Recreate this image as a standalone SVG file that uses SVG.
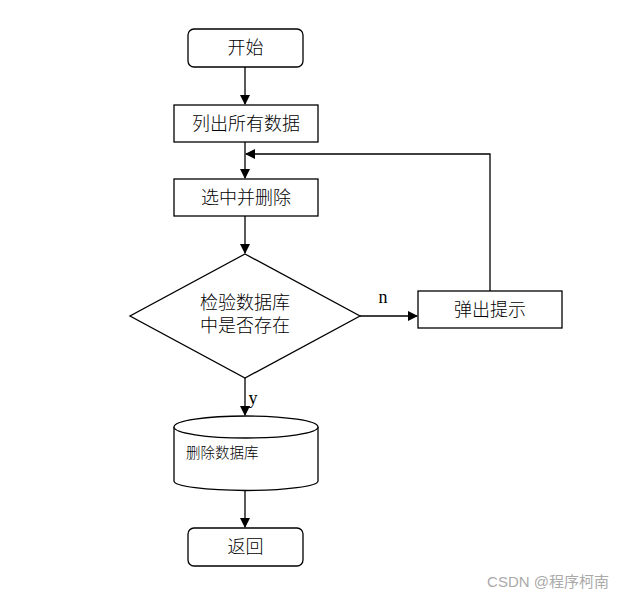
<svg xmlns="http://www.w3.org/2000/svg" width="624" height="600" viewBox="0 0 624 600">
<defs>
<marker id="ah" markerWidth="10" markerHeight="10" refX="9" refY="5" orient="auto" markerUnits="userSpaceOnUse">
<path d="M0,0 L10,5 L0,10 Z" fill="#000"/>
</marker>
<style>
.box{fill:#fff;stroke:#000;stroke-width:1.3}
.t{font-family:"Liberation Serif","Noto Sans CJK SC",serif;font-size:18px;font-weight:300;fill:#000;text-anchor:middle}
.ts{font-family:"Liberation Sans","Noto Sans CJK SC",sans-serif;font-size:14.5px;font-weight:300;fill:#000}
.ln{fill:none;stroke:#000;stroke-width:1.3}
</style>
</defs>
<rect width="624" height="600" fill="#fff"/>
<g id="connectors">
<path class="ln" d="M245,67 V104" marker-end="url(#ah)"/>
<path class="ln" d="M245,142 V178" marker-end="url(#ah)"/>
<path class="ln" d="M245,216 V253" marker-end="url(#ah)"/>
<path class="ln" d="M245,378 V415" marker-end="url(#ah)"/>
<path class="ln" d="M245,490 V527" marker-end="url(#ah)"/>
<path class="ln" d="M360,316 H417" marker-end="url(#ah)"/>
<path class="ln" d="M490,291 V154 H246" marker-end="url(#ah)"/>
<text x="383" y="303" class="t">n</text>
<text x="253" y="404" class="t">y</text>
</g>
<g id="start">
<rect class="box" x="188" y="29" width="115" height="38" rx="6"/>
<text x="245.5" y="54" class="t">开始</text>
</g>
<g id="list">
<rect class="box" x="174" y="105" width="144" height="37"/>
<text x="246" y="130" class="t">列出所有数据</text>
</g>
<g id="select">
<rect class="box" x="174" y="179" width="144" height="37"/>
<text x="246" y="204" class="t">选中并删除</text>
</g>
<g id="check">
<polygon class="box" points="245,254 360,316 245,378 130,316"/>
<text x="245" y="309" class="t">检验数据库</text>
<text x="245" y="332" class="t">中是否存在</text>
</g>
<g id="prompt">
<rect class="box" x="418" y="291" width="144" height="37"/>
<text x="490" y="316" class="t">弹出提示</text>
</g>
<g id="db">
<path class="box" d="M174,427 V481 A72,9.5 0 0 0 318,481 V427"/>
<ellipse class="box" cx="246" cy="427" rx="72" ry="11"/>
<text x="186" y="458" class="ts">删除数据库</text>
</g>
<g id="return">
<rect class="box" x="188" y="528" width="115" height="38" rx="6"/>
<text x="245.5" y="553" class="t">返回</text>
</g>
<text x="609" y="587" font-family="'Liberation Sans','Noto Sans CJK SC',sans-serif" font-size="15" fill="#aaa" text-anchor="end">CSDN @程序柯南</text>
</svg>
